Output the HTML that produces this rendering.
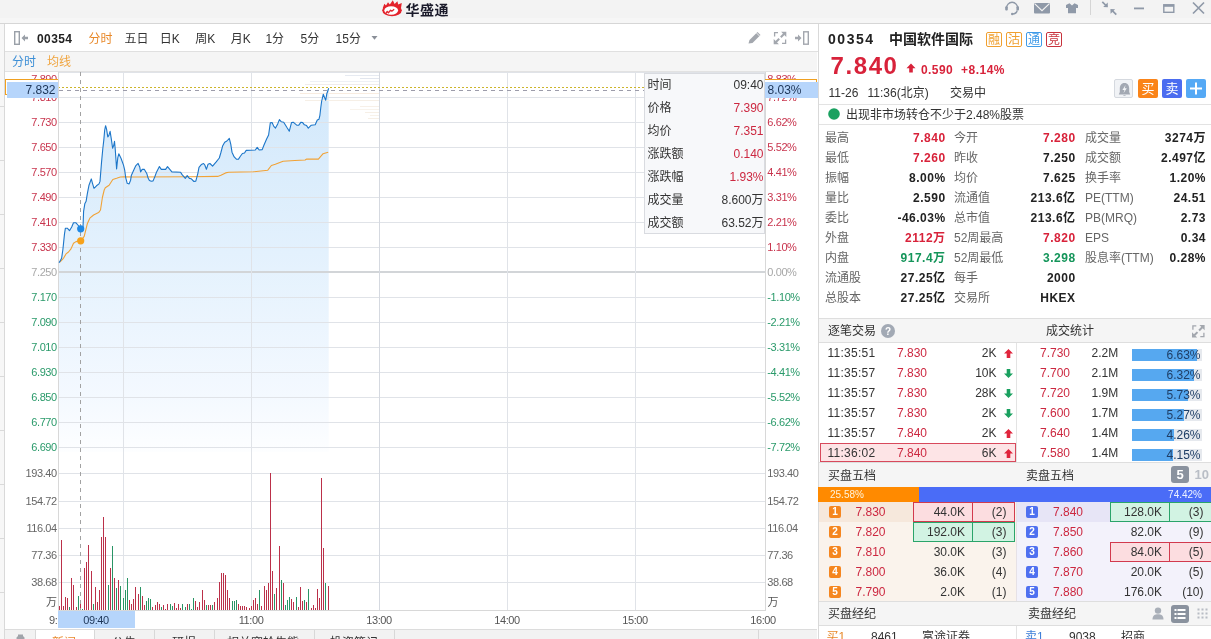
<!DOCTYPE html>
<html lang="zh-CN"><head><meta charset="utf-8"><title>华盛通</title>
<style>
html,body{margin:0;padding:0;}
body{width:1211px;height:639px;overflow:hidden;position:relative;background:#fff;font-family:"Liberation Sans", "Noto Sans CJK SC", sans-serif;}
.r{position:absolute;}
.t{position:absolute;white-space:nowrap;}
</style></head><body>
<div class="r" style="left:0px;top:0px;width:1211px;height:23px;background:#f3f3f3;"></div>
<div class="r" style="left:0px;top:18px;width:1211px;height:5px;background:#f6f6f6;"></div>
<div class="r" style="left:0px;top:23px;width:1211px;height:1px;background:#d6d6d6;"></div>
<svg class="r" style="left:380px;top:0px" width="24" height="18" viewBox="380 0 24 18">
<ellipse cx="392" cy="10.3" rx="9.8" ry="5.9" fill="#e3232c"/>
<path d="M382.8 8 L384.3 3.8 L386 5.6 L388 2.2 L389.8 4.6 L392.8 0.2 L394.6 4 L397.4 1.2 L398.2 4.4 L401.8 3 L401 8 Z" fill="#e3232c"/>
<ellipse cx="391.2" cy="10.5" rx="6.9" ry="4.2" fill="#fff"/>
<path d="M385.6 13.8 L387.2 11.4 L388.4 12.8 L390.6 10.3 L391.8 11.2 L394.2 9.3" stroke="#e3232c" stroke-width="1.3" fill="none" stroke-linejoin="round"/>
</svg>
<div class="t" style="top:-0.2px;height:20px;line-height:20px;font-size:14px;color:#1a1a2a;font-weight:bold;left:405.5px;letter-spacing:0.5px;">华盛通</div>
<svg class="r" style="left:1000px;top:0px" width="211" height="22" viewBox="1000 0 211 22">
<g fill="none" stroke="#8f99a8" stroke-width="1.4">
<path d="M1006.4 8.5 A5.7 6.2 0 1 1 1017.8 8.5"/>
<path d="M1017.2 10.5 Q1016.5 13.8 1012.5 14"/>
</g>
<rect x="1005.2" y="6.2" width="2.6" height="4.4" rx="1" fill="#8f99a8"/>
<rect x="1016.4" y="6.2" width="2.6" height="4.4" rx="1" fill="#8f99a8"/>
<circle cx="1012.2" cy="14" r="1.2" fill="#8f99a8"/>
<rect x="1034" y="3" width="16" height="10.6" rx="1" fill="#8f99a8"/>
<path d="M1034.6 3.6 L1042 10.6 L1049.4 3.6" stroke="#f3f3f3" stroke-width="1.2" fill="none"/>
<path d="M1066 5 L1069.5 3.3 L1072 5.5 L1074.5 3.3 L1078 5 L1078 8 L1076 8 L1076 13.3 L1068 13.3 L1068 8 L1066 8 Z" fill="#8f99a8"/>
<rect x="1090" y="0" width="1" height="15" fill="#d5d5d5"/>
<g stroke="#8f99a8" stroke-width="1.7" fill="none">
<path d="M1102.3 1.8 L1106 5.5"/><path d="M1116.3 14.6 L1112.3 10.6"/>
</g>
<path d="M1107.9 7.2 L1103.2 7 L1107.7 2.5 Z" fill="#8f99a8"/>
<path d="M1110.4 9 L1115.1 9.2 L1110.6 13.7 Z" fill="#8f99a8"/>
<rect x="1134" y="7.5" width="10" height="1.8" fill="#8f99a8"/>
<rect x="1163.8" y="4.8" width="10" height="7.5" fill="none" stroke="#8f99a8" stroke-width="1.4"/>
<rect x="1163.5" y="4.5" width="10.6" height="2.3" fill="#8f99a8"/>
<path d="M1193 2.5 L1204 13.5 M1204 2.5 L1193 13.5" stroke="#8f99a8" stroke-width="1.7"/>
</svg>
<div class="r" style="left:0px;top:24px;width:4px;height:615px;background:#f7f7f7;"></div>
<div class="r" style="left:4px;top:24px;width:1px;height:615px;background:#d9d9d9;"></div>
<div class="r" style="left:0px;top:106px;width:4px;height:1px;background:#dadada;"></div>
<div class="r" style="left:0px;top:160px;width:4px;height:1px;background:#dadada;"></div>
<div class="r" style="left:0px;top:214px;width:4px;height:1px;background:#dadada;"></div>
<div class="r" style="left:0px;top:268px;width:4px;height:1px;background:#dadada;"></div>
<div class="r" style="left:0px;top:322px;width:4px;height:1px;background:#dadada;"></div>
<div class="r" style="left:0px;top:376px;width:4px;height:1px;background:#dadada;"></div>
<div class="r" style="left:0px;top:430px;width:4px;height:1px;background:#dadada;"></div>
<div class="r" style="left:0px;top:484px;width:4px;height:1px;background:#dadada;"></div>
<div class="r" style="left:0px;top:538px;width:4px;height:1px;background:#dadada;"></div>
<div class="r" style="left:0px;top:592px;width:4px;height:1px;background:#dadada;"></div>
<div class="r" style="left:5px;top:24px;width:813px;height:27px;background:#ffffff;"></div>
<div class="r" style="left:5px;top:51px;width:813px;height:1px;background:#e0e0e0;"></div>
<svg class="r" style="left:10px;top:28px" width="24" height="20" viewBox="10 28 24 20">
<rect x="14.7" y="31.7" width="4.6" height="12.6" fill="none" stroke="#9aa0a8" stroke-width="1.4"/>
<path d="M21.5 38 L25 34.5 L25 36.7 L28 36.7 L28 39.3 L25 39.3 L25 41.5 Z" fill="#9aa0a8"/>
</svg>
<div class="t" style="top:28.5px;height:20px;line-height:20px;font-size:12px;color:#222;font-weight:bold;left:37px;letter-spacing:0.4px;">00354</div>
<div class="t" style="top:28.9px;height:20px;line-height:20px;font-size:12px;color:#e8892a;left:88.6px;">分时</div>
<div class="t" style="top:28.9px;height:20px;line-height:20px;font-size:12px;color:#333;left:124.5px;">五日</div>
<div class="t" style="top:28.9px;height:20px;line-height:20px;font-size:12px;color:#333;left:159.8px;">日K</div>
<div class="t" style="top:28.9px;height:20px;line-height:20px;font-size:12px;color:#333;left:195.2px;">周K</div>
<div class="t" style="top:28.9px;height:20px;line-height:20px;font-size:12px;color:#333;left:230.7px;">月K</div>
<div class="t" style="top:28.9px;height:20px;line-height:20px;font-size:12px;color:#333;left:265.4px;">1分</div>
<div class="t" style="top:28.9px;height:20px;line-height:20px;font-size:12px;color:#333;left:300.6px;">5分</div>
<div class="t" style="top:28.9px;height:20px;line-height:20px;font-size:12px;color:#333;left:335.6px;">15分</div>
<svg class="r" style="left:370px;top:35px" width="9" height="6"><path d="M1.5 1 L7.5 1 L4.5 4.8 Z" fill="#8a8f98"/></svg>
<svg class="r" style="left:745px;top:29px" width="70" height="18" viewBox="745 29 70 18">
<path d="M748.5 43.5 L749.5 40 L757.5 32 L760.5 35 L752.5 43 Z" fill="#a3a7ae"/>
<path d="M756.5 33 L759.5 36" stroke="#fff" stroke-width="0.8"/>
<g fill="none" stroke="#a3a7ae" stroke-width="1.3">
<path d="M774.6 36.5 L774.6 32.6 L778 32.6"/>
<path d="M785.6 39.5 L785.6 43.4 L782 43.4"/>
</g>
<path d="M780.8 37.2 L784 34" stroke="#a3a7ae" stroke-width="2"/>
<path d="M786.3 31.8 L786.3 37 L781.1 31.8 Z" fill="#a3a7ae"/>
<path d="M779.2 38.8 L776 42" stroke="#a3a7ae" stroke-width="2"/>
<path d="M773.7 44.2 L773.7 39 L778.9 44.2 Z" fill="#a3a7ae"/>
<path d="M795 36.8 L798 36.8 L798 34.5 L801.5 38 L798 41.5 L798 39.2 L795 39.2 Z" fill="#a3a7ae"/>
<rect x="803.7" y="31.8" width="4.6" height="12.4" fill="none" stroke="#a3a7ae" stroke-width="1.4"/>
</svg>
<div class="r" style="left:5px;top:52px;width:812px;height:19px;background:#f5f5f5;"></div>
<div class="r" style="left:5px;top:71px;width:812px;height:1px;background:#e2e2e2;"></div>
<div class="t" style="top:52.3px;height:20px;line-height:20px;font-size:12px;color:#3d8fd6;left:12px;">分时</div>
<div class="t" style="top:52.3px;height:20px;line-height:20px;font-size:12px;color:#f0a540;left:47px;">均线</div>
<svg class="r" style="left:0;top:0" width="1211" height="639" viewBox="0 0 1211 639"><defs><linearGradient id="gf" x1="0" y1="0" x2="0" y2="1"><stop offset="0" stop-color="#d2e8fb"/><stop offset="0.45" stop-color="#e3f1fd"/><stop offset="0.85" stop-color="#f4f9ff"/><stop offset="1" stop-color="#fdfeff"/></linearGradient></defs><polygon points="59,452 59.1,262.7 61.6,258.3 62.9,249.5 64.5,233.9 65.4,228.2 67.3,228.2 69.5,230.7 71.7,227.0 73.5,222.8 76.0,222.8 77.9,225.0 80.7,228.8 83.0,227.6 83.6,211.3 84.8,203.8 86.1,201.3 87.3,193.8 89.0,185.2 91.3,178.9 92.5,183.3 94.0,188.3 96.5,185.8 99.0,183.9 100.0,181.4 101.5,162.6 102.8,148.8 103.8,140.1 104.7,130.0 105.6,125.7 106.6,129.4 107.8,136.9 108.8,135.7 110.1,131.3 111.3,138.8 112.6,148.2 113.8,145.1 114.5,141.3 115.3,150.1 116.6,168.9 117.8,157.6 118.8,153.8 121.0,158.2 123.5,165.1 124.7,170.1 125.7,177.7 127.2,183.3 129.1,183.9 130.6,180.2 131.3,175.6 134.7,168.1 135.9,165.6 138.1,163.4 139.7,166.9 140.6,171.9 142.2,169.4 144.4,169.4 146.9,173.8 148.1,178.1 149.4,180.6 151.3,181.3 153.1,180.9 155.0,176.3 156.6,171.9 159.4,166.6 161.3,169.4 165.6,169.4 167.5,166.6 171.9,171.9 180.6,172.2 181.9,174.4 185.3,178.4 187.2,175.6 189.4,178.4 191.1,178.7 193.9,181.5 195.8,181.1 197.8,173.6 199.0,167.4 201.3,164.6 203.6,163.5 204.8,165.0 206.4,169.3 208.0,164.3 209.9,163.5 212.6,166.2 216.2,161.9 219.3,158.0 220.9,152.5 222.6,146.1 224.7,142.3 226.9,141.0 229.3,138.4 230.8,144.4 232.0,152.2 234.2,156.9 236.4,159.2 238.5,159.1 240.2,156.5 242.4,153.5 244.5,153.0 246.2,150.4 255.3,150.0 257.2,147.4 259.2,150.0 262.2,149.6 263.9,145.3 266.5,139.3 268.6,135.0 270.3,122.9 272.1,122.5 273.8,126.4 275.5,128.1 277.7,123.9 279.4,119.6 281.2,121.7 283.7,122.2 286.8,127.3 289.3,131.2 291.5,122.6 293.2,122.2 296.7,125.2 298.8,125.2 301.0,122.2 302.7,122.6 304.4,124.8 306.6,125.6 308.3,128.2 311.3,125.2 315.2,124.8 317.3,120.0 319.0,119.2 319.9,115.3 320.8,107.5 321.6,101.5 323.3,94.2 324.6,97.6 325.7,100.2 326.8,93.8 328.7,88.2 328.7,452" fill="url(#gf)"/><rect x="59" y="72" width="706" height="1" fill="#e0e3e8"/><rect x="59" y="97" width="706" height="1" fill="#e0e3e8"/><rect x="59" y="122" width="706" height="1" fill="#e0e3e8"/><rect x="59" y="147" width="706" height="1" fill="#e0e3e8"/><rect x="59" y="172" width="706" height="1" fill="#e0e3e8"/><rect x="59" y="197" width="706" height="1" fill="#e0e3e8"/><rect x="59" y="222" width="706" height="1" fill="#e0e3e8"/><rect x="59" y="247" width="706" height="1" fill="#e0e3e8"/><rect x="59" y="297" width="706" height="1" fill="#e0e3e8"/><rect x="59" y="322" width="706" height="1" fill="#e0e3e8"/><rect x="59" y="347" width="706" height="1" fill="#e0e3e8"/><rect x="59" y="372" width="706" height="1" fill="#e0e3e8"/><rect x="59" y="397" width="706" height="1" fill="#e0e3e8"/><rect x="59" y="422" width="706" height="1" fill="#e0e3e8"/><rect x="59" y="447" width="706" height="1" fill="#e0e3e8"/><rect x="59" y="271" width="706" height="2" fill="#d2d5d8"/><rect x="59" y="473" width="706" height="1" fill="#e0e3e8"/><rect x="59" y="501" width="706" height="1" fill="#e0e3e8"/><rect x="59" y="528" width="706" height="1" fill="#e0e3e8"/><rect x="59" y="555" width="706" height="1" fill="#e0e3e8"/><rect x="59" y="582" width="706" height="1" fill="#e0e3e8"/><rect x="58" y="610" width="708" height="1" fill="#d8d8d8"/><rect x="123" y="72" width="1" height="538" fill="#e0e3e8"/><rect x="251" y="72" width="1" height="538" fill="#e0e3e8"/><rect x="507" y="72" width="1" height="538" fill="#e0e3e8"/><rect x="635" y="72" width="1" height="538" fill="#e0e3e8"/><rect x="379" y="72" width="1" height="538" fill="#d5d9e0"/><rect x="58" y="72" width="1" height="539" fill="#d8d8d8"/><rect x="765" y="72" width="1" height="539" fill="#d8d8d8"/><rect x="345" y="75.0" width="34" height="1" fill="#e6eaf1"/><rect x="360" y="78.0" width="19" height="1" fill="#e2e6ee"/><rect x="310" y="81.0" width="69" height="1" fill="#eef0f5"/><rect x="305" y="84.0" width="74" height="1" fill="#f0ecec"/><rect x="300" y="93.0" width="79" height="1" fill="#f8ece0"/><rect x="305" y="100.0" width="74" height="1" fill="#f6efe6"/><rect x="360" y="106.0" width="19" height="1" fill="#f7f0e8"/><rect x="350" y="109.0" width="29" height="1" fill="#f8f3ec"/><rect x="365" y="112.0" width="14" height="1" fill="#f6efe6"/><rect x="370" y="115.0" width="9" height="1" fill="#f8f2ea"/><rect x="368" y="118.0" width="11" height="1" fill="#f6efe6"/><rect x="59" y="606" width="1" height="4" fill="#bb3049"/><rect x="61" y="540" width="1" height="70" fill="#bb3049"/><rect x="63" y="606" width="1" height="4" fill="#bb3049"/><rect x="65" y="597" width="1" height="13" fill="#bb3049"/><rect x="67" y="598" width="1" height="12" fill="#bb3049"/><rect x="69" y="607" width="1" height="3" fill="#299465"/><rect x="71" y="578" width="1" height="32" fill="#bb3049"/><rect x="73" y="585" width="1" height="25" fill="#bb3049"/><rect x="76" y="607" width="1" height="3" fill="#bb3049"/><rect x="78" y="596" width="1" height="14" fill="#299465"/><rect x="80" y="604" width="1" height="6" fill="#bb3049"/><rect x="82" y="609" width="1" height="1" fill="#299465"/><rect x="84" y="568" width="1" height="42" fill="#bb3049"/><rect x="86" y="562" width="1" height="48" fill="#bb3049"/><rect x="88" y="545" width="1" height="65" fill="#bb3049"/><rect x="91" y="571" width="1" height="39" fill="#bb3049"/><rect x="93" y="604" width="1" height="6" fill="#299465"/><rect x="95" y="587" width="1" height="23" fill="#bb3049"/><rect x="97" y="602" width="1" height="8" fill="#bb3049"/><rect x="99" y="590" width="1" height="20" fill="#bb3049"/><rect x="101" y="537" width="1" height="73" fill="#bb3049"/><rect x="103" y="517" width="1" height="93" fill="#bb3049"/><rect x="105" y="537" width="1" height="73" fill="#bb3049"/><rect x="108" y="585" width="1" height="25" fill="#299465"/><rect x="110" y="568" width="1" height="42" fill="#bb3049"/><rect x="112" y="546" width="1" height="64" fill="#299465"/><rect x="114" y="578" width="1" height="32" fill="#bb3049"/><rect x="116" y="588" width="1" height="22" fill="#299465"/><rect x="118" y="580" width="1" height="30" fill="#bb3049"/><rect x="120" y="586" width="1" height="24" fill="#299465"/><rect x="123" y="598" width="1" height="12" fill="#299465"/><rect x="125" y="590" width="1" height="20" fill="#299465"/><rect x="127" y="578" width="1" height="32" fill="#299465"/><rect x="129" y="600" width="1" height="10" fill="#bb3049"/><rect x="131" y="604" width="1" height="6" fill="#bb3049"/><rect x="133" y="599" width="1" height="11" fill="#bb3049"/><rect x="135" y="587" width="1" height="23" fill="#bb3049"/><rect x="138" y="594" width="1" height="16" fill="#bb3049"/><rect x="140" y="587" width="1" height="23" fill="#299465"/><rect x="142" y="596" width="1" height="14" fill="#bb3049"/><rect x="144" y="605" width="1" height="5" fill="#bb3049"/><rect x="146" y="601" width="1" height="9" fill="#299465"/><rect x="148" y="598" width="1" height="12" fill="#299465"/><rect x="150" y="599" width="1" height="11" fill="#299465"/><rect x="152" y="607" width="1" height="3" fill="#bb3049"/><rect x="155" y="605" width="1" height="5" fill="#bb3049"/><rect x="157" y="602" width="1" height="8" fill="#bb3049"/><rect x="159" y="604" width="1" height="6" fill="#bb3049"/><rect x="161" y="607" width="1" height="3" fill="#299465"/><rect x="163" y="605" width="1" height="5" fill="#bb3049"/><rect x="165" y="609" width="1" height="1" fill="#bb3049"/><rect x="167" y="604" width="1" height="6" fill="#bb3049"/><rect x="170" y="604" width="1" height="6" fill="#299465"/><rect x="172" y="606" width="1" height="4" fill="#299465"/><rect x="174" y="603" width="1" height="7" fill="#bb3049"/><rect x="176" y="608" width="1" height="2" fill="#bb3049"/><rect x="178" y="604" width="1" height="6" fill="#bb3049"/><rect x="180" y="608" width="1" height="2" fill="#bb3049"/><rect x="182" y="604" width="1" height="6" fill="#299465"/><rect x="185" y="607" width="1" height="3" fill="#299465"/><rect x="187" y="604" width="1" height="6" fill="#bb3049"/><rect x="189" y="604" width="1" height="6" fill="#299465"/><rect x="191" y="609" width="1" height="1" fill="#299465"/><rect x="193" y="598" width="1" height="12" fill="#299465"/><rect x="195" y="601" width="1" height="9" fill="#bb3049"/><rect x="197" y="607" width="1" height="3" fill="#bb3049"/><rect x="199" y="602" width="1" height="8" fill="#bb3049"/><rect x="202" y="590" width="1" height="20" fill="#bb3049"/><rect x="204" y="600" width="1" height="10" fill="#bb3049"/><rect x="206" y="605" width="1" height="5" fill="#299465"/><rect x="208" y="605" width="1" height="5" fill="#bb3049"/><rect x="210" y="605" width="1" height="5" fill="#bb3049"/><rect x="212" y="605" width="1" height="5" fill="#299465"/><rect x="214" y="602" width="1" height="8" fill="#bb3049"/><rect x="217" y="598" width="1" height="12" fill="#bb3049"/><rect x="219" y="582" width="1" height="28" fill="#bb3049"/><rect x="221" y="573" width="1" height="37" fill="#bb3049"/><rect x="223" y="573" width="1" height="37" fill="#bb3049"/><rect x="225" y="575" width="1" height="35" fill="#bb3049"/><rect x="227" y="590" width="1" height="20" fill="#bb3049"/><rect x="229" y="598" width="1" height="12" fill="#bb3049"/><rect x="232" y="601" width="1" height="9" fill="#299465"/><rect x="234" y="601" width="1" height="9" fill="#299465"/><rect x="236" y="600" width="1" height="10" fill="#299465"/><rect x="238" y="604" width="1" height="6" fill="#bb3049"/><rect x="240" y="606" width="1" height="4" fill="#bb3049"/><rect x="242" y="606" width="1" height="4" fill="#bb3049"/><rect x="244" y="606" width="1" height="4" fill="#bb3049"/><rect x="246" y="607" width="1" height="3" fill="#bb3049"/><rect x="249" y="608" width="1" height="2" fill="#bb3049"/><rect x="251" y="606" width="1" height="4" fill="#bb3049"/><rect x="253" y="600" width="1" height="10" fill="#bb3049"/><rect x="255" y="598" width="1" height="12" fill="#bb3049"/><rect x="257" y="604" width="1" height="6" fill="#bb3049"/><rect x="259" y="590" width="1" height="20" fill="#299465"/><rect x="261" y="606" width="1" height="4" fill="#bb3049"/><rect x="264" y="586" width="1" height="24" fill="#bb3049"/><rect x="266" y="590" width="1" height="20" fill="#bb3049"/><rect x="268" y="583" width="1" height="27" fill="#bb3049"/><rect x="270" y="473" width="1" height="137" fill="#bb3049"/><rect x="272" y="571" width="1" height="39" fill="#bb3049"/><rect x="274" y="594" width="1" height="16" fill="#299465"/><rect x="276" y="588" width="1" height="22" fill="#bb3049"/><rect x="279" y="546" width="1" height="64" fill="#bb3049"/><rect x="281" y="580" width="1" height="30" fill="#299465"/><rect x="283" y="583" width="1" height="27" fill="#bb3049"/><rect x="285" y="605" width="1" height="5" fill="#299465"/><rect x="287" y="600" width="1" height="10" fill="#299465"/><rect x="289" y="597" width="1" height="13" fill="#299465"/><rect x="291" y="599" width="1" height="11" fill="#bb3049"/><rect x="293" y="602" width="1" height="8" fill="#bb3049"/><rect x="296" y="597" width="1" height="13" fill="#299465"/><rect x="298" y="607" width="1" height="3" fill="#bb3049"/><rect x="300" y="587" width="1" height="23" fill="#bb3049"/><rect x="302" y="601" width="1" height="9" fill="#bb3049"/><rect x="304" y="600" width="1" height="10" fill="#299465"/><rect x="306" y="602" width="1" height="8" fill="#bb3049"/><rect x="308" y="589" width="1" height="21" fill="#299465"/><rect x="311" y="608" width="1" height="2" fill="#bb3049"/><rect x="313" y="605" width="1" height="5" fill="#bb3049"/><rect x="315" y="608" width="1" height="2" fill="#bb3049"/><rect x="317" y="589" width="1" height="21" fill="#bb3049"/><rect x="319" y="598" width="1" height="12" fill="#bb3049"/><rect x="321" y="478" width="1" height="132" fill="#bb3049"/><rect x="323" y="548" width="1" height="62" fill="#bb3049"/><rect x="325" y="583" width="1" height="27" fill="#299465"/><rect x="328" y="586" width="1" height="24" fill="#bb3049"/><polyline points="59.8,262.0 63.5,258.3 66.0,253.9 68.5,252.0 71.0,248.9 73.5,243.3 76.0,241.6 80.7,240.8 84.2,236.4 87.3,223.8 89.8,218.2 93.6,215.0 98.6,212.6 100.5,210.0 102.4,197.5 104.2,190.0 105.3,187.7 109.1,185.2 112.8,179.5 116.6,178.3 120.3,177.0 124.1,176.8 133.9,177.0 190.0,176.8 217.7,176.4 220.9,175.2 225.6,172.9 228.7,172.3 253.3,171.8 267.8,170.2 271.4,165.5 275.3,164.3 283.1,161.2 294.9,160.5 305.1,160.0 306.7,159.1 318.4,159.1 323.1,153.7 324.7,153.2 328.2,152.3" fill="none" stroke="#f1a236" stroke-width="1.1" stroke-linejoin="round"/><polyline points="59.1,262.7 61.6,258.3 62.9,249.5 64.5,233.9 65.4,228.2 67.3,228.2 69.5,230.7 71.7,227.0 73.5,222.8 76.0,222.8 77.9,225.0 80.7,228.8 83.0,227.6 83.6,211.3 84.8,203.8 86.1,201.3 87.3,193.8 89.0,185.2 91.3,178.9 92.5,183.3 94.0,188.3 96.5,185.8 99.0,183.9 100.0,181.4 101.5,162.6 102.8,148.8 103.8,140.1 104.7,130.0 105.6,125.7 106.6,129.4 107.8,136.9 108.8,135.7 110.1,131.3 111.3,138.8 112.6,148.2 113.8,145.1 114.5,141.3 115.3,150.1 116.6,168.9 117.8,157.6 118.8,153.8 121.0,158.2 123.5,165.1 124.7,170.1 125.7,177.7 127.2,183.3 129.1,183.9 130.6,180.2 131.3,175.6 134.7,168.1 135.9,165.6 138.1,163.4 139.7,166.9 140.6,171.9 142.2,169.4 144.4,169.4 146.9,173.8 148.1,178.1 149.4,180.6 151.3,181.3 153.1,180.9 155.0,176.3 156.6,171.9 159.4,166.6 161.3,169.4 165.6,169.4 167.5,166.6 171.9,171.9 180.6,172.2 181.9,174.4 185.3,178.4 187.2,175.6 189.4,178.4 191.1,178.7 193.9,181.5 195.8,181.1 197.8,173.6 199.0,167.4 201.3,164.6 203.6,163.5 204.8,165.0 206.4,169.3 208.0,164.3 209.9,163.5 212.6,166.2 216.2,161.9 219.3,158.0 220.9,152.5 222.6,146.1 224.7,142.3 226.9,141.0 229.3,138.4 230.8,144.4 232.0,152.2 234.2,156.9 236.4,159.2 238.5,159.1 240.2,156.5 242.4,153.5 244.5,153.0 246.2,150.4 255.3,150.0 257.2,147.4 259.2,150.0 262.2,149.6 263.9,145.3 266.5,139.3 268.6,135.0 270.3,122.9 272.1,122.5 273.8,126.4 275.5,128.1 277.7,123.9 279.4,119.6 281.2,121.7 283.7,122.2 286.8,127.3 289.3,131.2 291.5,122.6 293.2,122.2 296.7,125.2 298.8,125.2 301.0,122.2 302.7,122.6 304.4,124.8 306.6,125.6 308.3,128.2 311.3,125.2 315.2,124.8 317.3,120.0 319.0,119.2 319.9,115.3 320.8,107.5 321.6,101.5 323.3,94.2 324.6,97.6 325.7,100.2 326.8,93.8 328.7,88.2" fill="none" stroke="#1c76c9" stroke-width="1.1" stroke-linejoin="round"/><line x1="80.5" y1="72" x2="80.5" y2="610" stroke="#a2a2a2" stroke-width="1" stroke-dasharray="4,4"/><line x1="59" y1="87.5" x2="765" y2="87.5" stroke="#cdb52c" stroke-width="1" stroke-dasharray="2,2" stroke-dashoffset="1"/><line x1="59" y1="90.5" x2="765" y2="90.5" stroke="#9c9caa" stroke-width="1" stroke-dasharray="4,4"/><circle cx="80.7" cy="228.8" r="3.6" fill="#1e88e5"/><circle cx="80.7" cy="240.8" r="3.6" fill="#f7a21b"/></svg>
<div class="t" style="top:68.5px;height:20px;line-height:20px;font-size:11px;color:#c8344d;right:1154.2px;letter-spacing:-0.4px;">7.890</div>
<div class="t" style="top:68.5px;height:20px;line-height:20px;font-size:11px;color:#c8344d;left:767.3px;letter-spacing:-0.4px;">8.83%</div>
<div class="t" style="top:86.8px;height:20px;line-height:20px;font-size:11px;color:#c8344d;right:1154.2px;letter-spacing:-0.4px;">7.810</div>
<div class="t" style="top:86.8px;height:20px;line-height:20px;font-size:11px;color:#c8344d;left:767.3px;letter-spacing:-0.4px;">7.72%</div>
<div class="t" style="top:111.8px;height:20px;line-height:20px;font-size:11px;color:#c8344d;right:1154.2px;letter-spacing:-0.4px;">7.730</div>
<div class="t" style="top:111.8px;height:20px;line-height:20px;font-size:11px;color:#c8344d;left:767.3px;letter-spacing:-0.4px;">6.62%</div>
<div class="t" style="top:136.8px;height:20px;line-height:20px;font-size:11px;color:#c8344d;right:1154.2px;letter-spacing:-0.4px;">7.650</div>
<div class="t" style="top:136.8px;height:20px;line-height:20px;font-size:11px;color:#c8344d;left:767.3px;letter-spacing:-0.4px;">5.52%</div>
<div class="t" style="top:161.8px;height:20px;line-height:20px;font-size:11px;color:#c8344d;right:1154.2px;letter-spacing:-0.4px;">7.570</div>
<div class="t" style="top:161.8px;height:20px;line-height:20px;font-size:11px;color:#c8344d;left:767.3px;letter-spacing:-0.4px;">4.41%</div>
<div class="t" style="top:186.8px;height:20px;line-height:20px;font-size:11px;color:#c8344d;right:1154.2px;letter-spacing:-0.4px;">7.490</div>
<div class="t" style="top:186.8px;height:20px;line-height:20px;font-size:11px;color:#c8344d;left:767.3px;letter-spacing:-0.4px;">3.31%</div>
<div class="t" style="top:211.8px;height:20px;line-height:20px;font-size:11px;color:#c8344d;right:1154.2px;letter-spacing:-0.4px;">7.410</div>
<div class="t" style="top:211.8px;height:20px;line-height:20px;font-size:11px;color:#c8344d;left:767.3px;letter-spacing:-0.4px;">2.21%</div>
<div class="t" style="top:236.8px;height:20px;line-height:20px;font-size:11px;color:#c8344d;right:1154.2px;letter-spacing:-0.4px;">7.330</div>
<div class="t" style="top:236.8px;height:20px;line-height:20px;font-size:11px;color:#c8344d;left:767.3px;letter-spacing:-0.4px;">1.10%</div>
<div class="t" style="top:261.8px;height:20px;line-height:20px;font-size:11px;color:#a8a8a8;right:1154.2px;letter-spacing:-0.4px;">7.250</div>
<div class="t" style="top:261.8px;height:20px;line-height:20px;font-size:11px;color:#a8a8a8;left:767.3px;letter-spacing:-0.4px;">0.00%</div>
<div class="t" style="top:286.8px;height:20px;line-height:20px;font-size:11px;color:#2a9a6a;right:1154.2px;letter-spacing:-0.4px;">7.170</div>
<div class="t" style="top:286.8px;height:20px;line-height:20px;font-size:11px;color:#2a9a6a;left:767.3px;letter-spacing:-0.4px;">-1.10%</div>
<div class="t" style="top:311.8px;height:20px;line-height:20px;font-size:11px;color:#2a9a6a;right:1154.2px;letter-spacing:-0.4px;">7.090</div>
<div class="t" style="top:311.8px;height:20px;line-height:20px;font-size:11px;color:#2a9a6a;left:767.3px;letter-spacing:-0.4px;">-2.21%</div>
<div class="t" style="top:336.8px;height:20px;line-height:20px;font-size:11px;color:#2a9a6a;right:1154.2px;letter-spacing:-0.4px;">7.010</div>
<div class="t" style="top:336.8px;height:20px;line-height:20px;font-size:11px;color:#2a9a6a;left:767.3px;letter-spacing:-0.4px;">-3.31%</div>
<div class="t" style="top:361.8px;height:20px;line-height:20px;font-size:11px;color:#2a9a6a;right:1154.2px;letter-spacing:-0.4px;">6.930</div>
<div class="t" style="top:361.8px;height:20px;line-height:20px;font-size:11px;color:#2a9a6a;left:767.3px;letter-spacing:-0.4px;">-4.41%</div>
<div class="t" style="top:386.8px;height:20px;line-height:20px;font-size:11px;color:#2a9a6a;right:1154.2px;letter-spacing:-0.4px;">6.850</div>
<div class="t" style="top:386.8px;height:20px;line-height:20px;font-size:11px;color:#2a9a6a;left:767.3px;letter-spacing:-0.4px;">-5.52%</div>
<div class="t" style="top:411.8px;height:20px;line-height:20px;font-size:11px;color:#2a9a6a;right:1154.2px;letter-spacing:-0.4px;">6.770</div>
<div class="t" style="top:411.8px;height:20px;line-height:20px;font-size:11px;color:#2a9a6a;left:767.3px;letter-spacing:-0.4px;">-6.62%</div>
<div class="t" style="top:436.8px;height:20px;line-height:20px;font-size:11px;color:#2a9a6a;right:1154.2px;letter-spacing:-0.4px;">6.690</div>
<div class="t" style="top:436.8px;height:20px;line-height:20px;font-size:11px;color:#2a9a6a;left:767.3px;letter-spacing:-0.4px;">-7.72%</div>
<div class="t" style="top:462.8px;height:20px;line-height:20px;font-size:11px;color:#666;right:1154.2px;letter-spacing:-0.4px;">193.40</div>
<div class="t" style="top:462.8px;height:20px;line-height:20px;font-size:11px;color:#666;left:767.3px;letter-spacing:-0.4px;">193.40</div>
<div class="t" style="top:490.8px;height:20px;line-height:20px;font-size:11px;color:#666;right:1154.2px;letter-spacing:-0.4px;">154.72</div>
<div class="t" style="top:490.8px;height:20px;line-height:20px;font-size:11px;color:#666;left:767.3px;letter-spacing:-0.4px;">154.72</div>
<div class="t" style="top:517.8px;height:20px;line-height:20px;font-size:11px;color:#666;right:1154.2px;letter-spacing:-0.4px;">116.04</div>
<div class="t" style="top:517.8px;height:20px;line-height:20px;font-size:11px;color:#666;left:767.3px;letter-spacing:-0.4px;">116.04</div>
<div class="t" style="top:544.8px;height:20px;line-height:20px;font-size:11px;color:#666;right:1154.2px;letter-spacing:-0.4px;">77.36</div>
<div class="t" style="top:544.8px;height:20px;line-height:20px;font-size:11px;color:#666;left:767.3px;letter-spacing:-0.4px;">77.36</div>
<div class="t" style="top:571.8px;height:20px;line-height:20px;font-size:11px;color:#666;right:1154.2px;letter-spacing:-0.4px;">38.68</div>
<div class="t" style="top:571.8px;height:20px;line-height:20px;font-size:11px;color:#666;left:767.3px;letter-spacing:-0.4px;">38.68</div>
<div class="t" style="top:592.0px;height:20px;line-height:20px;font-size:11px;color:#555;left:46px;">万</div>
<div class="t" style="top:592.0px;height:20px;line-height:20px;font-size:11px;color:#555;left:767.5px;">万</div>
<div class="r" style="left:5px;top:79px;width:53px;height:16px;background:#fff;border:1px solid #f0a020;border-right:none;box-sizing:border-box;"></div>
<div class="r" style="left:765px;top:79px;width:52px;height:16px;background:#fff;border:1px solid #f0a020;border-left:none;box-sizing:border-box;"></div>
<div class="r" style="left:7px;top:82px;width:51px;height:16px;background:#b6d5fb;"></div>
<div class="t" style="top:80.0px;height:20px;line-height:20px;font-size:12px;color:#1d3557;right:1155.5px;">7.832</div>
<div class="r" style="left:765px;top:82px;width:53px;height:16px;background:#b6d5fb;"></div>
<div class="t" style="top:80.0px;height:20px;line-height:20px;font-size:12px;color:#1d3557;left:767.5px;">8.03%</div>
<div class="r" style="left:5px;top:611px;width:812px;height:18px;background:#ffffff;"></div>
<div class="r" style="left:5px;top:629px;width:812px;height:1px;background:#dcdcdc;"></div>
<div class="t" style="top:609.8px;height:20px;line-height:20px;font-size:11px;color:#555;left:39.0px;width:40px;text-align:center;letter-spacing:-0.4px;">9:30</div>
<div class="t" style="top:609.8px;height:20px;line-height:20px;font-size:11px;color:#555;left:231.0px;width:40px;text-align:center;letter-spacing:-0.4px;">11:00</div>
<div class="t" style="top:609.8px;height:20px;line-height:20px;font-size:11px;color:#555;left:359.0px;width:40px;text-align:center;letter-spacing:-0.4px;">13:00</div>
<div class="t" style="top:609.8px;height:20px;line-height:20px;font-size:11px;color:#555;left:487.0px;width:40px;text-align:center;letter-spacing:-0.4px;">14:00</div>
<div class="t" style="top:609.8px;height:20px;line-height:20px;font-size:11px;color:#555;left:615.0px;width:40px;text-align:center;letter-spacing:-0.4px;">15:00</div>
<div class="t" style="top:609.8px;height:20px;line-height:20px;font-size:11px;color:#555;left:743.0px;width:40px;text-align:center;letter-spacing:-0.4px;">16:00</div>
<div class="r" style="left:58px;top:611px;width:77px;height:17px;background:#b6d5fb;"></div>
<div class="t" style="top:609.8px;height:20px;line-height:20px;font-size:11px;color:#1d3557;left:71.0px;width:50px;text-align:center;letter-spacing:-0.4px;">09:40</div>
<div class="r" style="left:5px;top:630px;width:812px;height:9px;background:#f2f2f2;"></div>
<div class="r" style="left:36px;top:630px;width:58px;height:9px;background:#ffffff;"></div>
<div class="r" style="left:35px;top:630px;width:1px;height:9px;background:#d8d8d8;"></div>
<div class="r" style="left:94px;top:630px;width:1px;height:9px;background:#d8d8d8;"></div>
<div class="r" style="left:154px;top:630px;width:1px;height:9px;background:#d8d8d8;"></div>
<div class="r" style="left:214px;top:630px;width:1px;height:9px;background:#d8d8d8;"></div>
<div class="r" style="left:314px;top:630px;width:1px;height:9px;background:#d8d8d8;"></div>
<div class="r" style="left:394px;top:630px;width:1px;height:9px;background:#d8d8d8;"></div>
<div class="r" style="left:758px;top:630px;width:1px;height:9px;background:#d8d8d8;"></div>
<svg class="r" style="left:15px;top:634px" width="11" height="5"><path d="M3 0.5 L8 0.5 L8 2 L9.5 3.5 L9.5 5 L1.5 5 L1.5 3.5 L3 2 Z" fill="#a0a4aa"/></svg>
<div class="t" style="top:632.8px;height:20px;line-height:20px;font-size:12px;color:#e8892a;left:52px;">新闻</div>
<div class="t" style="top:632.8px;height:20px;line-height:20px;font-size:12px;color:#333;left:112px;">公告</div>
<div class="t" style="top:632.8px;height:20px;line-height:20px;font-size:12px;color:#333;left:172px;">研报</div>
<div class="t" style="top:632.8px;height:20px;line-height:20px;font-size:12px;color:#333;left:227px;">相关窝轮牛熊</div>
<div class="t" style="top:632.8px;height:20px;line-height:20px;font-size:12px;color:#333;left:330px;">投资笔记</div>
<div class="r" style="left:644px;top:73px;width:121px;height:161px;background:#f7f8fa;border:1px solid #d9dbe0;box-sizing:border-box;"></div>
<div class="t" style="top:75.0px;height:20px;line-height:20px;font-size:12px;color:#333;left:647.5px;">时间</div>
<div class="t" style="top:75.0px;height:20px;line-height:20px;font-size:12px;color:#333;right:447.5px;">09:40</div>
<div class="t" style="top:98.0px;height:20px;line-height:20px;font-size:12px;color:#333;left:647.5px;">价格</div>
<div class="t" style="top:98.0px;height:20px;line-height:20px;font-size:12px;color:#cc2840;right:447.5px;">7.390</div>
<div class="t" style="top:121.0px;height:20px;line-height:20px;font-size:12px;color:#333;left:647.5px;">均价</div>
<div class="t" style="top:121.0px;height:20px;line-height:20px;font-size:12px;color:#cc2840;right:447.5px;">7.351</div>
<div class="t" style="top:144.0px;height:20px;line-height:20px;font-size:12px;color:#333;left:647.5px;">涨跌额</div>
<div class="t" style="top:144.0px;height:20px;line-height:20px;font-size:12px;color:#cc2840;right:447.5px;">0.140</div>
<div class="t" style="top:167.0px;height:20px;line-height:20px;font-size:12px;color:#333;left:647.5px;">涨跌幅</div>
<div class="t" style="top:167.0px;height:20px;line-height:20px;font-size:12px;color:#cc2840;right:447.5px;">1.93%</div>
<div class="t" style="top:190.0px;height:20px;line-height:20px;font-size:12px;color:#333;left:647.5px;">成交量</div>
<div class="t" style="top:190.0px;height:20px;line-height:20px;font-size:12px;color:#333;right:447.5px;">8.600万</div>
<div class="t" style="top:213.0px;height:20px;line-height:20px;font-size:12px;color:#333;left:647.5px;">成交额</div>
<div class="t" style="top:213.0px;height:20px;line-height:20px;font-size:12px;color:#333;right:447.5px;">63.52万</div>
<div class="r" style="left:818px;top:24px;width:393px;height:615px;background:#ffffff;"></div>
<div class="r" style="left:818px;top:24px;width:1px;height:615px;background:#d9d9d9;"></div>
<div class="t" style="top:28.5px;height:20px;line-height:20px;font-size:14px;color:#222;font-weight:bold;left:828px;letter-spacing:1.55px;">00354</div>
<div class="t" style="top:28.5px;height:20px;line-height:20px;font-size:14px;color:#222;font-weight:bold;left:889px;">中国软件国际</div>
<div class="r" style="left:986px;top:32px;width:16px;height:15px;background:#fff;border:1px solid #f0a030;border-radius:2px;box-sizing:border-box;"></div>
<div class="t" style="top:29.5px;height:20px;line-height:20px;font-size:12px;color:#f0a030;left:986.0px;width:16px;text-align:center;">融</div>
<div class="r" style="left:1006px;top:32px;width:16px;height:15px;background:#fff;border:1px solid #f0a030;border-radius:2px;box-sizing:border-box;"></div>
<div class="t" style="top:29.5px;height:20px;line-height:20px;font-size:12px;color:#f0a030;left:1006.0px;width:16px;text-align:center;">沽</div>
<div class="r" style="left:1026px;top:32px;width:16px;height:15px;background:#fff;border:1px solid #3f9be8;border-radius:2px;box-sizing:border-box;"></div>
<div class="t" style="top:29.5px;height:20px;line-height:20px;font-size:12px;color:#3f9be8;left:1026.0px;width:16px;text-align:center;">通</div>
<div class="r" style="left:1046px;top:32px;width:16px;height:15px;background:#fff;border:1px solid #c8323c;border-radius:2px;box-sizing:border-box;"></div>
<div class="t" style="top:29.5px;height:20px;line-height:20px;font-size:12px;color:#c8323c;left:1046.0px;width:16px;text-align:center;">竞</div>
<div class="t" style="top:55.5px;height:20px;line-height:20px;font-size:24px;color:#d8223a;font-weight:bold;left:830.5px;letter-spacing:1.6px;">7.840</div>
<svg class="r" style="left:906px;top:63px" width="10" height="10"><path d="M5 0.5 L9.5 5.2 L6.8 5.2 L6.8 9.5 L3.2 9.5 L3.2 5.2 L0.5 5.2 Z" fill="#d8223a"/></svg>
<div class="t" style="top:59.5px;height:20px;line-height:20px;font-size:12px;color:#d8223a;font-weight:bold;left:921px;letter-spacing:0.4px;">0.590</div>
<div class="t" style="top:59.5px;height:20px;line-height:20px;font-size:12px;color:#d8223a;font-weight:bold;left:961px;letter-spacing:0.5px;">+8.14%</div>
<div class="t" style="top:82.5px;height:20px;line-height:20px;font-size:12px;color:#333;left:828.5px;">11-26</div>
<div class="t" style="top:82.5px;height:20px;line-height:20px;font-size:12px;color:#333;left:867.5px;">11:36(北京)</div>
<div class="t" style="top:82.5px;height:20px;line-height:20px;font-size:12px;color:#333;left:950px;">交易中</div>
<div class="r" style="left:1114px;top:79px;width:19px;height:19px;background:#f1f3f6;border:1px solid #d5d9df;border-radius:2px;box-sizing:border-box;"></div>
<svg class="r" style="left:1118px;top:82px" width="13" height="15" viewBox="0 0 13 15"><path d="M6.5 1 C3.2 1 1.8 3.6 1.8 6.5 L1.8 10 L0.8 12.6 L12.2 12.6 L11.2 10 L11.2 6.5 C11.2 3.6 9.8 1 6.5 1 Z" fill="#a3a9b3"/><path d="M4.8 13 Q6.5 14.6 8.2 13 Z" fill="#a3a9b3"/><path d="M7.6 3 L4.4 7.9 L6.5 7.9 L5.5 11.3 L8.8 6.3 L6.7 6.3 Z" fill="#f4f6f8"/></svg>
<div class="r" style="left:1138px;top:79px;width:20px;height:19px;background:#fa8419;border-radius:2px;"></div>
<div class="t" style="top:78.5px;height:20px;line-height:20px;font-size:13px;color:#fff;left:1138.0px;width:20px;text-align:center;">买</div>
<div class="r" style="left:1162px;top:79px;width:20px;height:19px;background:#4b6cf0;border-radius:2px;"></div>
<div class="t" style="top:78.5px;height:20px;line-height:20px;font-size:13px;color:#fff;left:1162.0px;width:20px;text-align:center;">卖</div>
<div class="r" style="left:1186px;top:79px;width:20px;height:19px;background:#55a9f5;border-radius:2px;"></div>
<svg class="r" style="left:1186px;top:79px" width="20" height="19"><path d="M10 3.5 L10 15.5 M4 9.5 L16 9.5" stroke="#fff" stroke-width="2"/></svg>
<div class="r" style="left:819px;top:104px;width:392px;height:1px;background:#e3e3e3;"></div>
<svg class="r" style="left:828px;top:108px" width="12" height="12"><circle cx="6" cy="6" r="5.8" fill="#1aa160"/></svg>
<div class="t" style="top:105.3px;height:20px;line-height:20px;font-size:12px;color:#333;left:846px;">出现非市场转仓不少于2.48%股票</div>
<div class="r" style="left:819px;top:124px;width:392px;height:1px;background:#e3e3e3;"></div>
<div class="t" style="top:128.4px;height:20px;line-height:20px;font-size:12px;color:#666;left:825px;">最高</div>
<div class="t" style="top:128.4px;height:20px;line-height:20px;font-size:12px;color:#d8223a;font-weight:bold;right:265.4px;letter-spacing:0.5px;">7.840</div>
<div class="t" style="top:128.4px;height:20px;line-height:20px;font-size:12px;color:#666;left:954px;">今开</div>
<div class="t" style="top:128.4px;height:20px;line-height:20px;font-size:12px;color:#d8223a;font-weight:bold;right:135.4000000000001px;letter-spacing:0.5px;">7.280</div>
<div class="t" style="top:128.4px;height:20px;line-height:20px;font-size:12px;color:#666;left:1085px;">成交量</div>
<div class="t" style="top:128.4px;height:20px;line-height:20px;font-size:12px;color:#222;font-weight:bold;right:5px;letter-spacing:0.5px;">3274万</div>
<div class="t" style="top:148.4px;height:20px;line-height:20px;font-size:12px;color:#666;left:825px;">最低</div>
<div class="t" style="top:148.4px;height:20px;line-height:20px;font-size:12px;color:#d8223a;font-weight:bold;right:265.4px;letter-spacing:0.5px;">7.260</div>
<div class="t" style="top:148.4px;height:20px;line-height:20px;font-size:12px;color:#666;left:954px;">昨收</div>
<div class="t" style="top:148.4px;height:20px;line-height:20px;font-size:12px;color:#222;font-weight:bold;right:135.4000000000001px;letter-spacing:0.5px;">7.250</div>
<div class="t" style="top:148.4px;height:20px;line-height:20px;font-size:12px;color:#666;left:1085px;">成交额</div>
<div class="t" style="top:148.4px;height:20px;line-height:20px;font-size:12px;color:#222;font-weight:bold;right:5px;letter-spacing:0.5px;">2.497亿</div>
<div class="t" style="top:168.4px;height:20px;line-height:20px;font-size:12px;color:#666;left:825px;">振幅</div>
<div class="t" style="top:168.4px;height:20px;line-height:20px;font-size:12px;color:#222;font-weight:bold;right:265.4px;letter-spacing:0.5px;">8.00%</div>
<div class="t" style="top:168.4px;height:20px;line-height:20px;font-size:12px;color:#666;left:954px;">均价</div>
<div class="t" style="top:168.4px;height:20px;line-height:20px;font-size:12px;color:#222;font-weight:bold;right:135.4000000000001px;letter-spacing:0.5px;">7.625</div>
<div class="t" style="top:168.4px;height:20px;line-height:20px;font-size:12px;color:#666;left:1085px;">换手率</div>
<div class="t" style="top:168.4px;height:20px;line-height:20px;font-size:12px;color:#222;font-weight:bold;right:5px;letter-spacing:0.5px;">1.20%</div>
<div class="t" style="top:188.4px;height:20px;line-height:20px;font-size:12px;color:#666;left:825px;">量比</div>
<div class="t" style="top:188.4px;height:20px;line-height:20px;font-size:12px;color:#222;font-weight:bold;right:265.4px;letter-spacing:0.5px;">2.590</div>
<div class="t" style="top:188.4px;height:20px;line-height:20px;font-size:12px;color:#666;left:954px;">流通值</div>
<div class="t" style="top:188.4px;height:20px;line-height:20px;font-size:12px;color:#222;font-weight:bold;right:135.4000000000001px;letter-spacing:0.5px;">213.6亿</div>
<div class="t" style="top:188.4px;height:20px;line-height:20px;font-size:12px;color:#666;left:1085px;">PE(TTM)</div>
<div class="t" style="top:188.4px;height:20px;line-height:20px;font-size:12px;color:#222;font-weight:bold;right:5px;letter-spacing:0.5px;">24.51</div>
<div class="t" style="top:208.4px;height:20px;line-height:20px;font-size:12px;color:#666;left:825px;">委比</div>
<div class="t" style="top:208.4px;height:20px;line-height:20px;font-size:12px;color:#222;font-weight:bold;right:265.4px;letter-spacing:0.5px;">-46.03%</div>
<div class="t" style="top:208.4px;height:20px;line-height:20px;font-size:12px;color:#666;left:954px;">总市值</div>
<div class="t" style="top:208.4px;height:20px;line-height:20px;font-size:12px;color:#222;font-weight:bold;right:135.4000000000001px;letter-spacing:0.5px;">213.6亿</div>
<div class="t" style="top:208.4px;height:20px;line-height:20px;font-size:12px;color:#666;left:1085px;">PB(MRQ)</div>
<div class="t" style="top:208.4px;height:20px;line-height:20px;font-size:12px;color:#222;font-weight:bold;right:5px;letter-spacing:0.5px;">2.73</div>
<div class="t" style="top:228.4px;height:20px;line-height:20px;font-size:12px;color:#666;left:825px;">外盘</div>
<div class="t" style="top:228.4px;height:20px;line-height:20px;font-size:12px;color:#d8223a;font-weight:bold;right:265.4px;letter-spacing:0.5px;">2112万</div>
<div class="t" style="top:228.4px;height:20px;line-height:20px;font-size:12px;color:#666;left:954px;">52周最高</div>
<div class="t" style="top:228.4px;height:20px;line-height:20px;font-size:12px;color:#d8223a;font-weight:bold;right:135.4000000000001px;letter-spacing:0.5px;">7.820</div>
<div class="t" style="top:228.4px;height:20px;line-height:20px;font-size:12px;color:#666;left:1085px;">EPS</div>
<div class="t" style="top:228.4px;height:20px;line-height:20px;font-size:12px;color:#222;font-weight:bold;right:5px;letter-spacing:0.5px;">0.34</div>
<div class="t" style="top:248.4px;height:20px;line-height:20px;font-size:12px;color:#666;left:825px;">内盘</div>
<div class="t" style="top:248.4px;height:20px;line-height:20px;font-size:12px;color:#14955a;font-weight:bold;right:265.4px;letter-spacing:0.5px;">917.4万</div>
<div class="t" style="top:248.4px;height:20px;line-height:20px;font-size:12px;color:#666;left:954px;">52周最低</div>
<div class="t" style="top:248.4px;height:20px;line-height:20px;font-size:12px;color:#14955a;font-weight:bold;right:135.4000000000001px;letter-spacing:0.5px;">3.298</div>
<div class="t" style="top:248.4px;height:20px;line-height:20px;font-size:12px;color:#666;left:1085px;">股息率(TTM)</div>
<div class="t" style="top:248.4px;height:20px;line-height:20px;font-size:12px;color:#222;font-weight:bold;right:5px;letter-spacing:0.5px;">0.28%</div>
<div class="t" style="top:268.4px;height:20px;line-height:20px;font-size:12px;color:#666;left:825px;">流通股</div>
<div class="t" style="top:268.4px;height:20px;line-height:20px;font-size:12px;color:#222;font-weight:bold;right:265.4px;letter-spacing:0.5px;">27.25亿</div>
<div class="t" style="top:268.4px;height:20px;line-height:20px;font-size:12px;color:#666;left:954px;">每手</div>
<div class="t" style="top:268.4px;height:20px;line-height:20px;font-size:12px;color:#222;font-weight:bold;right:135.4000000000001px;letter-spacing:0.5px;">2000</div>
<div class="t" style="top:288.4px;height:20px;line-height:20px;font-size:12px;color:#666;left:825px;">总股本</div>
<div class="t" style="top:288.4px;height:20px;line-height:20px;font-size:12px;color:#222;font-weight:bold;right:265.4px;letter-spacing:0.5px;">27.25亿</div>
<div class="t" style="top:288.4px;height:20px;line-height:20px;font-size:12px;color:#666;left:954px;">交易所</div>
<div class="t" style="top:288.4px;height:20px;line-height:20px;font-size:12px;color:#222;font-weight:bold;right:135.4000000000001px;letter-spacing:0.5px;">HKEX</div>
<div class="r" style="left:819px;top:318px;width:392px;height:1px;background:#dedede;"></div>
<div class="r" style="left:819px;top:319px;width:392px;height:23px;background:#f5f5f5;"></div>
<div class="r" style="left:819px;top:342px;width:392px;height:1px;background:#dedede;"></div>
<div class="t" style="top:320.5px;height:20px;line-height:20px;font-size:12px;color:#333;left:828px;">逐笔交易</div>
<svg class="r" style="left:881px;top:324px" width="14" height="14"><circle cx="7" cy="7" r="7" fill="#a2a9b4"/><text x="7" y="11" font-size="10" font-weight="bold" fill="#fff" text-anchor="middle" font-family="Liberation Sans">?</text></svg>
<div class="t" style="top:320.5px;height:20px;line-height:20px;font-size:12px;color:#333;left:1046px;">成交统计</div>
<svg class="r" style="left:1188px;top:322px" width="20" height="18" viewBox="1188 322 20 18"><g transform="translate(418.3 293.3)">
<g fill="none" stroke="#a3a7ae" stroke-width="1.3">
<path d="M774.6 36.5 L774.6 32.6 L778 32.6"/>
<path d="M785.6 39.5 L785.6 43.4 L782 43.4"/>
</g>
<path d="M780.8 37.2 L784 34" stroke="#a3a7ae" stroke-width="2"/>
<path d="M786.3 31.8 L786.3 37 L781.1 31.8 Z" fill="#a3a7ae"/>
<path d="M779.2 38.8 L776 42" stroke="#a3a7ae" stroke-width="2"/>
<path d="M773.7 44.2 L773.7 39 L778.9 44.2 Z" fill="#a3a7ae"/>
</g></svg>
<div class="r" style="left:1016px;top:343px;width:1px;height:119px;background:#e3e3e3;"></div>
<div class="r" style="left:820px;top:443px;width:196px;height:19px;background:#fde4e6;border:1px solid #d8495c;box-sizing:border-box;"></div>
<div class="t" style="top:342.5px;height:20px;line-height:20px;font-size:12px;color:#333;left:827.5px;letter-spacing:0.25px;">11:35:51</div>
<div class="t" style="top:342.5px;height:20px;line-height:20px;font-size:12px;color:#cc2840;left:897px;">7.830</div>
<div class="t" style="top:342.5px;height:20px;line-height:20px;font-size:12px;color:#333;right:214.5px;">2K</div>
<svg class="r" style="left:1004px;top:349.0px" width="9" height="9"><path d="M4.5 0 L9 4.6 L6.3 4.6 L6.3 9 L2.7 9 L2.7 4.6 L0 4.6 Z" fill="#e0243c"/></svg>
<div class="t" style="top:362.5px;height:20px;line-height:20px;font-size:12px;color:#333;left:827.5px;letter-spacing:0.25px;">11:35:57</div>
<div class="t" style="top:362.5px;height:20px;line-height:20px;font-size:12px;color:#cc2840;left:897px;">7.830</div>
<div class="t" style="top:362.5px;height:20px;line-height:20px;font-size:12px;color:#333;right:214.5px;">10K</div>
<svg class="r" style="left:1004px;top:369.0px" width="9" height="9"><path d="M4.5 9 L9 4.4 L6.3 4.4 L6.3 0 L2.7 0 L2.7 4.4 L0 4.4 Z" fill="#1aa160"/></svg>
<div class="t" style="top:382.5px;height:20px;line-height:20px;font-size:12px;color:#333;left:827.5px;letter-spacing:0.25px;">11:35:57</div>
<div class="t" style="top:382.5px;height:20px;line-height:20px;font-size:12px;color:#cc2840;left:897px;">7.830</div>
<div class="t" style="top:382.5px;height:20px;line-height:20px;font-size:12px;color:#333;right:214.5px;">28K</div>
<svg class="r" style="left:1004px;top:389.0px" width="9" height="9"><path d="M4.5 9 L9 4.4 L6.3 4.4 L6.3 0 L2.7 0 L2.7 4.4 L0 4.4 Z" fill="#1aa160"/></svg>
<div class="t" style="top:402.5px;height:20px;line-height:20px;font-size:12px;color:#333;left:827.5px;letter-spacing:0.25px;">11:35:57</div>
<div class="t" style="top:402.5px;height:20px;line-height:20px;font-size:12px;color:#cc2840;left:897px;">7.830</div>
<div class="t" style="top:402.5px;height:20px;line-height:20px;font-size:12px;color:#333;right:214.5px;">2K</div>
<svg class="r" style="left:1004px;top:409.0px" width="9" height="9"><path d="M4.5 9 L9 4.4 L6.3 4.4 L6.3 0 L2.7 0 L2.7 4.4 L0 4.4 Z" fill="#1aa160"/></svg>
<div class="t" style="top:422.5px;height:20px;line-height:20px;font-size:12px;color:#333;left:827.5px;letter-spacing:0.25px;">11:35:57</div>
<div class="t" style="top:422.5px;height:20px;line-height:20px;font-size:12px;color:#cc2840;left:897px;">7.840</div>
<div class="t" style="top:422.5px;height:20px;line-height:20px;font-size:12px;color:#333;right:214.5px;">2K</div>
<svg class="r" style="left:1004px;top:429.0px" width="9" height="9"><path d="M4.5 0 L9 4.6 L6.3 4.6 L6.3 9 L2.7 9 L2.7 4.6 L0 4.6 Z" fill="#e0243c"/></svg>
<div class="t" style="top:442.5px;height:20px;line-height:20px;font-size:12px;color:#333;left:827.5px;letter-spacing:0.25px;">11:36:02</div>
<div class="t" style="top:442.5px;height:20px;line-height:20px;font-size:12px;color:#cc2840;left:897px;">7.840</div>
<div class="t" style="top:442.5px;height:20px;line-height:20px;font-size:12px;color:#333;right:214.5px;">6K</div>
<svg class="r" style="left:1004px;top:449.0px" width="9" height="9"><path d="M4.5 0 L9 4.6 L6.3 4.6 L6.3 9 L2.7 9 L2.7 4.6 L0 4.6 Z" fill="#e0243c"/></svg>
<div class="t" style="top:342.5px;height:20px;line-height:20px;font-size:12px;color:#cc2840;left:1040px;">7.730</div>
<div class="t" style="top:342.5px;height:20px;line-height:20px;font-size:12px;color:#333;left:1091.5px;">2.2M</div>
<div class="r" style="left:1132px;top:349px;width:70px;height:12px;background:#e6e9ee;"></div>
<div class="r" style="left:1132px;top:349px;width:65px;height:12px;background:#56a8f0;"></div>
<div class="t" style="top:345.0px;height:20px;line-height:20px;font-size:12px;color:#1f3e66;right:10.5px;">6.63%</div>
<div class="t" style="top:362.5px;height:20px;line-height:20px;font-size:12px;color:#cc2840;left:1040px;">7.700</div>
<div class="t" style="top:362.5px;height:20px;line-height:20px;font-size:12px;color:#333;left:1091.5px;">2.1M</div>
<div class="r" style="left:1132px;top:369px;width:70px;height:12px;background:#e6e9ee;"></div>
<div class="r" style="left:1132px;top:369px;width:62px;height:12px;background:#56a8f0;"></div>
<div class="t" style="top:365.0px;height:20px;line-height:20px;font-size:12px;color:#1f3e66;right:10.5px;">6.32%</div>
<div class="t" style="top:382.5px;height:20px;line-height:20px;font-size:12px;color:#cc2840;left:1040px;">7.720</div>
<div class="t" style="top:382.5px;height:20px;line-height:20px;font-size:12px;color:#333;left:1091.5px;">1.9M</div>
<div class="r" style="left:1132px;top:389px;width:70px;height:12px;background:#e6e9ee;"></div>
<div class="r" style="left:1132px;top:389px;width:56px;height:12px;background:#56a8f0;"></div>
<div class="t" style="top:385.0px;height:20px;line-height:20px;font-size:12px;color:#1f3e66;right:10.5px;">5.73%</div>
<div class="t" style="top:402.5px;height:20px;line-height:20px;font-size:12px;color:#cc2840;left:1040px;">7.600</div>
<div class="t" style="top:402.5px;height:20px;line-height:20px;font-size:12px;color:#333;left:1091.5px;">1.7M</div>
<div class="r" style="left:1132px;top:409px;width:70px;height:12px;background:#e6e9ee;"></div>
<div class="r" style="left:1132px;top:409px;width:52px;height:12px;background:#56a8f0;"></div>
<div class="t" style="top:405.0px;height:20px;line-height:20px;font-size:12px;color:#1f3e66;right:10.5px;">5.27%</div>
<div class="t" style="top:422.5px;height:20px;line-height:20px;font-size:12px;color:#cc2840;left:1040px;">7.640</div>
<div class="t" style="top:422.5px;height:20px;line-height:20px;font-size:12px;color:#333;left:1091.5px;">1.4M</div>
<div class="r" style="left:1132px;top:429px;width:70px;height:12px;background:#e6e9ee;"></div>
<div class="r" style="left:1132px;top:429px;width:42px;height:12px;background:#56a8f0;"></div>
<div class="t" style="top:425.0px;height:20px;line-height:20px;font-size:12px;color:#1f3e66;right:10.5px;">4.26%</div>
<div class="t" style="top:442.5px;height:20px;line-height:20px;font-size:12px;color:#cc2840;left:1040px;">7.580</div>
<div class="t" style="top:442.5px;height:20px;line-height:20px;font-size:12px;color:#333;left:1091.5px;">1.4M</div>
<div class="r" style="left:1132px;top:449px;width:70px;height:12px;background:#e6e9ee;"></div>
<div class="r" style="left:1132px;top:449px;width:41px;height:12px;background:#56a8f0;"></div>
<div class="t" style="top:445.0px;height:20px;line-height:20px;font-size:12px;color:#1f3e66;right:10.5px;">4.15%</div>
<div class="r" style="left:819px;top:462px;width:392px;height:1px;background:#dedede;"></div>
<div class="r" style="left:819px;top:463px;width:392px;height:24px;background:#f5f5f5;"></div>
<div class="t" style="top:465.5px;height:20px;line-height:20px;font-size:12px;color:#333;left:828px;">买盘五档</div>
<div class="t" style="top:465.5px;height:20px;line-height:20px;font-size:12px;color:#333;left:1026px;">卖盘五档</div>
<div class="r" style="left:1171px;top:466px;width:18px;height:17px;background:#8a929e;border-radius:3px;"></div>
<div class="t" style="top:464.8px;height:20px;line-height:20px;font-size:13px;color:#fff;font-weight:bold;left:1171.0px;width:18px;text-align:center;">5</div>
<div class="t" style="top:464.8px;height:20px;line-height:20px;font-size:13px;color:#b9bec6;font-weight:bold;left:1194.5px;">10</div>
<div class="r" style="left:818px;top:487px;width:101px;height:15px;background:#ff8a00;"></div>
<div class="r" style="left:919px;top:487px;width:292px;height:15px;background:#4a6cf7;"></div>
<div class="t" style="top:484.5px;height:20px;line-height:20px;font-size:10px;color:#fff3da;left:830px;">25.58%</div>
<div class="t" style="top:484.5px;height:20px;line-height:20px;font-size:10px;color:#eef2ff;right:9px;">74.42%</div>
<div class="r" style="left:819px;top:502px;width:197px;height:99px;background:#faf3ec;"></div>
<div class="r" style="left:1017px;top:502px;width:194px;height:99px;background:#f3f2fb;"></div>
<div class="r" style="left:819px;top:502px;width:94px;height:20px;background:#f6e8dc;"></div>
<div class="r" style="left:1017px;top:502px;width:93px;height:20px;background:#e7e5f6;"></div>
<div class="r" style="left:1016px;top:502px;width:1px;height:99px;background:#e6e1e6;"></div>
<div class="r" style="left:913px;top:502px;width:60px;height:20px;background:#fcdde0;border:1px solid #d23a4e;box-sizing:border-box;"></div>
<div class="r" style="left:972px;top:502px;width:43px;height:20px;background:#fcdde0;border:1px solid #d23a4e;box-sizing:border-box;"></div>
<div class="r" style="left:913px;top:522px;width:60px;height:20px;background:#d2f3e3;border:1px solid #2aa46a;box-sizing:border-box;"></div>
<div class="r" style="left:972px;top:522px;width:43px;height:20px;background:#d2f3e3;border:1px solid #2aa46a;box-sizing:border-box;"></div>
<div class="r" style="left:1110px;top:502px;width:60px;height:20px;background:#d2f3e3;border:1px solid #2aa46a;box-sizing:border-box;"></div>
<div class="r" style="left:1169px;top:502px;width:43px;height:20px;background:#d2f3e3;border:1px solid #2aa46a;box-sizing:border-box;"></div>
<div class="r" style="left:1110px;top:542px;width:60px;height:20px;background:#fcdde0;border:1px solid #d23a4e;box-sizing:border-box;"></div>
<div class="r" style="left:1169px;top:542px;width:43px;height:20px;background:#fcdde0;border:1px solid #d23a4e;box-sizing:border-box;"></div>
<div class="r" style="left:829px;top:506px;width:12px;height:12px;background:#f5861f;border-radius:2px;"></div>
<div class="t" style="top:502.0px;height:20px;line-height:20px;font-size:10px;color:#fff;font-weight:bold;left:829.0px;width:12px;text-align:center;">1</div>
<div class="t" style="top:502.0px;height:20px;line-height:20px;font-size:12px;color:#cc2840;left:855.5px;">7.830</div>
<div class="t" style="top:502.0px;height:20px;line-height:20px;font-size:12px;color:#333;right:246px;">44.0K</div>
<div class="t" style="top:502.0px;height:20px;line-height:20px;font-size:12px;color:#333;right:204.5px;">(2)</div>
<div class="r" style="left:1026px;top:506px;width:12px;height:12px;background:#4f70f0;border-radius:2px;"></div>
<div class="t" style="top:502.0px;height:20px;line-height:20px;font-size:10px;color:#fff;font-weight:bold;left:1026.0px;width:12px;text-align:center;">1</div>
<div class="t" style="top:502.0px;height:20px;line-height:20px;font-size:12px;color:#cc2840;left:1053px;">7.840</div>
<div class="t" style="top:502.0px;height:20px;line-height:20px;font-size:12px;color:#333;right:49px;">128.0K</div>
<div class="t" style="top:502.0px;height:20px;line-height:20px;font-size:12px;color:#333;right:7.5px;">(3)</div>
<div class="r" style="left:829px;top:526px;width:12px;height:12px;background:#f5861f;border-radius:2px;"></div>
<div class="t" style="top:522.0px;height:20px;line-height:20px;font-size:10px;color:#fff;font-weight:bold;left:829.0px;width:12px;text-align:center;">2</div>
<div class="t" style="top:522.0px;height:20px;line-height:20px;font-size:12px;color:#cc2840;left:855.5px;">7.820</div>
<div class="t" style="top:522.0px;height:20px;line-height:20px;font-size:12px;color:#333;right:246px;">192.0K</div>
<div class="t" style="top:522.0px;height:20px;line-height:20px;font-size:12px;color:#333;right:204.5px;">(3)</div>
<div class="r" style="left:1026px;top:526px;width:12px;height:12px;background:#4f70f0;border-radius:2px;"></div>
<div class="t" style="top:522.0px;height:20px;line-height:20px;font-size:10px;color:#fff;font-weight:bold;left:1026.0px;width:12px;text-align:center;">2</div>
<div class="t" style="top:522.0px;height:20px;line-height:20px;font-size:12px;color:#cc2840;left:1053px;">7.850</div>
<div class="t" style="top:522.0px;height:20px;line-height:20px;font-size:12px;color:#333;right:49px;">82.0K</div>
<div class="t" style="top:522.0px;height:20px;line-height:20px;font-size:12px;color:#333;right:7.5px;">(9)</div>
<div class="r" style="left:829px;top:546px;width:12px;height:12px;background:#f5861f;border-radius:2px;"></div>
<div class="t" style="top:542.0px;height:20px;line-height:20px;font-size:10px;color:#fff;font-weight:bold;left:829.0px;width:12px;text-align:center;">3</div>
<div class="t" style="top:542.0px;height:20px;line-height:20px;font-size:12px;color:#cc2840;left:855.5px;">7.810</div>
<div class="t" style="top:542.0px;height:20px;line-height:20px;font-size:12px;color:#333;right:246px;">30.0K</div>
<div class="t" style="top:542.0px;height:20px;line-height:20px;font-size:12px;color:#333;right:204.5px;">(3)</div>
<div class="r" style="left:1026px;top:546px;width:12px;height:12px;background:#4f70f0;border-radius:2px;"></div>
<div class="t" style="top:542.0px;height:20px;line-height:20px;font-size:10px;color:#fff;font-weight:bold;left:1026.0px;width:12px;text-align:center;">3</div>
<div class="t" style="top:542.0px;height:20px;line-height:20px;font-size:12px;color:#cc2840;left:1053px;">7.860</div>
<div class="t" style="top:542.0px;height:20px;line-height:20px;font-size:12px;color:#333;right:49px;">84.0K</div>
<div class="t" style="top:542.0px;height:20px;line-height:20px;font-size:12px;color:#333;right:7.5px;">(5)</div>
<div class="r" style="left:829px;top:566px;width:12px;height:12px;background:#f5861f;border-radius:2px;"></div>
<div class="t" style="top:562.0px;height:20px;line-height:20px;font-size:10px;color:#fff;font-weight:bold;left:829.0px;width:12px;text-align:center;">4</div>
<div class="t" style="top:562.0px;height:20px;line-height:20px;font-size:12px;color:#cc2840;left:855.5px;">7.800</div>
<div class="t" style="top:562.0px;height:20px;line-height:20px;font-size:12px;color:#333;right:246px;">36.0K</div>
<div class="t" style="top:562.0px;height:20px;line-height:20px;font-size:12px;color:#333;right:204.5px;">(4)</div>
<div class="r" style="left:1026px;top:566px;width:12px;height:12px;background:#4f70f0;border-radius:2px;"></div>
<div class="t" style="top:562.0px;height:20px;line-height:20px;font-size:10px;color:#fff;font-weight:bold;left:1026.0px;width:12px;text-align:center;">4</div>
<div class="t" style="top:562.0px;height:20px;line-height:20px;font-size:12px;color:#cc2840;left:1053px;">7.870</div>
<div class="t" style="top:562.0px;height:20px;line-height:20px;font-size:12px;color:#333;right:49px;">20.0K</div>
<div class="t" style="top:562.0px;height:20px;line-height:20px;font-size:12px;color:#333;right:7.5px;">(5)</div>
<div class="r" style="left:829px;top:586px;width:12px;height:12px;background:#f5861f;border-radius:2px;"></div>
<div class="t" style="top:582.0px;height:20px;line-height:20px;font-size:10px;color:#fff;font-weight:bold;left:829.0px;width:12px;text-align:center;">5</div>
<div class="t" style="top:582.0px;height:20px;line-height:20px;font-size:12px;color:#cc2840;left:855.5px;">7.790</div>
<div class="t" style="top:582.0px;height:20px;line-height:20px;font-size:12px;color:#333;right:246px;">2.0K</div>
<div class="t" style="top:582.0px;height:20px;line-height:20px;font-size:12px;color:#333;right:204.5px;">(1)</div>
<div class="r" style="left:1026px;top:586px;width:12px;height:12px;background:#4f70f0;border-radius:2px;"></div>
<div class="t" style="top:582.0px;height:20px;line-height:20px;font-size:10px;color:#fff;font-weight:bold;left:1026.0px;width:12px;text-align:center;">5</div>
<div class="t" style="top:582.0px;height:20px;line-height:20px;font-size:12px;color:#cc2840;left:1053px;">7.880</div>
<div class="t" style="top:582.0px;height:20px;line-height:20px;font-size:12px;color:#333;right:49px;">176.0K</div>
<div class="t" style="top:582.0px;height:20px;line-height:20px;font-size:12px;color:#333;right:7.5px;">(10)</div>
<div class="r" style="left:819px;top:601px;width:392px;height:1px;background:#dedede;"></div>
<div class="r" style="left:819px;top:602px;width:392px;height:23px;background:#f5f5f5;"></div>
<div class="r" style="left:819px;top:625px;width:392px;height:1px;background:#dedede;"></div>
<div class="t" style="top:604.3px;height:20px;line-height:20px;font-size:12px;color:#333;left:828px;">买盘经纪</div>
<div class="t" style="top:604.3px;height:20px;line-height:20px;font-size:12px;color:#333;left:1028px;">卖盘经纪</div>
<svg class="r" style="left:1152px;top:607px" width="12" height="13"><circle cx="6" cy="3.6" r="3.2" fill="#a9afb8"/><path d="M0.5 12.5 C0.5 8.5 3 7.3 6 7.3 C9 7.3 11.5 8.5 11.5 12.5 Z" fill="#a9afb8"/></svg>
<div class="r" style="left:1171px;top:605px;width:18px;height:18px;background:#8a929e;border-radius:3px;"></div>
<svg class="r" style="left:1171px;top:605px" width="18" height="18"><g fill="#fff"><rect x="3.5" y="4" width="2" height="2"/><rect x="6.5" y="4" width="8" height="2"/><rect x="3.5" y="8" width="2" height="2"/><rect x="6.5" y="8" width="8" height="2"/><rect x="3.5" y="12" width="2" height="2"/><rect x="6.5" y="12" width="8" height="2"/></g></svg>
<svg class="r" style="left:1197px;top:608px" width="12" height="12"><g fill="#b7bcc4"><rect x="0.5" y="0.5" width="2" height="2"/><rect x="0.5" y="4.5" width="2" height="2"/><rect x="0.5" y="8.5" width="2" height="2"/><rect x="4.5" y="0.5" width="2" height="2"/><rect x="4.5" y="4.5" width="2" height="2"/><rect x="4.5" y="8.5" width="2" height="2"/><rect x="8.5" y="0.5" width="2" height="2"/><rect x="8.5" y="4.5" width="2" height="2"/><rect x="8.5" y="8.5" width="2" height="2"/></g></svg>
<div class="r" style="left:1016px;top:626px;width:1px;height:13px;background:#e3e3e3;"></div>
<div class="t" style="top:627.0px;height:20px;line-height:20px;font-size:12px;color:#e8892a;left:826.5px;">买1</div>
<div class="t" style="top:627.0px;height:20px;line-height:20px;font-size:12px;color:#333;left:871px;">8461</div>
<div class="t" style="top:627.0px;height:20px;line-height:20px;font-size:12px;color:#333;left:922px;">富途证券</div>
<div class="t" style="top:627.0px;height:20px;line-height:20px;font-size:12px;color:#3f7fd8;left:1025px;">卖1</div>
<div class="t" style="top:627.0px;height:20px;line-height:20px;font-size:12px;color:#333;left:1069px;">9038</div>
<div class="t" style="top:627.0px;height:20px;line-height:20px;font-size:12px;color:#333;left:1121px;">招商</div>
</body></html>
